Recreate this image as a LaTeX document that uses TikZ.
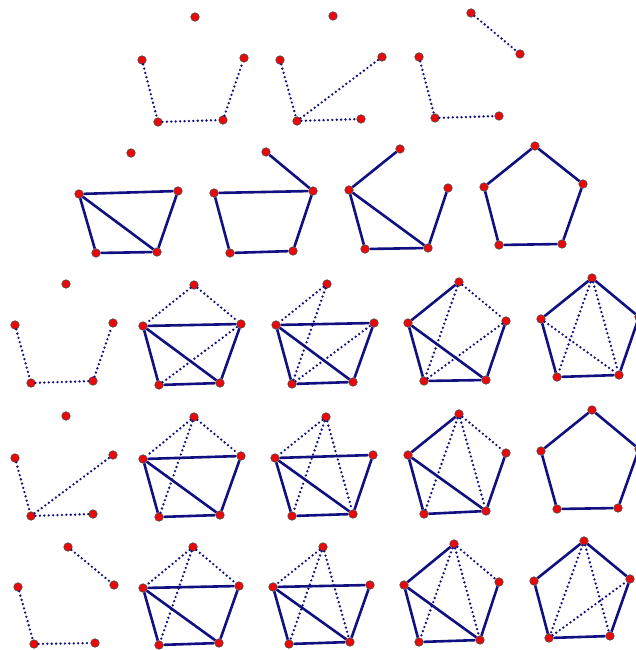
\documentclass[tikz,border=0pt]{standalone}
\usepackage{tikz}
\usetikzlibrary{calc}
\usepackage{xcolor}

\definecolor{edgeblue}{RGB}{16,16,128}
\definecolor{vtxred}{RGB}{236,8,8}

% five vertices of one graph: prefix, top, left, right, bottom-left, bottom-right
\newcommand{\fivevtx}[6]{%
  \node[vtx] (#1t)  at (#2) {};
  \node[vtx] (#1l)  at (#3) {};
  \node[vtx] (#1r)  at (#4) {};
  \node[vtx] (#1bl) at (#5) {};
  \node[vtx] (#1br) at (#6) {};
}

\begin{document}
\begin{tikzpicture}[
  x=1pt, y=-1pt,
  vtx/.style = {circle, fill=vtxred, draw=black!70, line width=0.6pt, inner sep=0pt, minimum size=8.5pt},
  solidedge/.style = {edgeblue, line width=2.6pt},
  dotedge/.style = {edgeblue, line width=2.6pt, line cap=round, dash pattern=on 0pt off 4.4pt}
]
  \useasboundingbox (0,0) rectangle (636,650);

  % ======================================================
  % Row 1
  % ======================================================
  \fivevtx{g11}{195,17}{142,60}{244,58}{158,122}{223,120}
  \fivevtx{g12}{333,16}{280,60}{382,57}{297,121}{361,119}
  \fivevtx{g13}{471,13}{419,57}{520,54}{435,118}{499,116}

  \draw[dotedge] (g11l) -- (g11bl) (g11bl) -- (g11br) (g11br) -- (g11r);
  \draw[dotedge] (g12l) -- (g12bl) (g12bl) -- (g12br) (g12bl) -- (g12r);
  \draw[dotedge] (g13t) -- (g13r) (g13l) -- (g13bl) (g13bl) -- (g13br);

  % ======================================================
  % Row 2
  % ======================================================
  \fivevtx{g21}{131,153}{79,194}{178,191}{96,253}{157,252}
  \fivevtx{g22}{266,152}{214,193}{313,191}{230,253}{293,251}
  \fivevtx{g23}{400,149}{349,190}{448,188}{365,249}{428,248}
  \fivevtx{g24}{535,146}{484,187}{583,184}{499,245}{562,244}

  \draw[solidedge] (g21l) -- (g21r) (g21l) -- (g21bl) (g21l) -- (g21br) (g21bl) -- (g21br) (g21br) -- (g21r);
  \draw[solidedge] (g22t) -- (g22r) (g22l) -- (g22r) (g22l) -- (g22bl) (g22bl) -- (g22br) (g22br) -- (g22r);
  \draw[solidedge] (g23t) -- (g23l) (g23l) -- (g23bl) (g23l) -- (g23br) (g23bl) -- (g23br) (g23br) -- (g23r);
  \draw[solidedge] (g24t) -- (g24l) (g24t) -- (g24r) (g24l) -- (g24bl) (g24bl) -- (g24br) (g24br) -- (g24r);

  % ======================================================
  % Row 3
  % ======================================================
  \fivevtx{g31}{66,284}{15,325}{113,323}{31,383}{93,381}
  \fivevtx{g32}{194,285}{143,326}{241,324}{159,385}{220,383}
  \fivevtx{g33}{327,284}{276,325}{374,323}{292,384}{353,382}
  \fivevtx{g34}{459,282}{408,323}{506,321}{424,381}{486,380}
  \fivevtx{g35}{592,278}{541,319}{639,317}{557,377}{619,375}

  \draw[dotedge] (g31l) -- (g31bl) (g31bl) -- (g31br) (g31br) -- (g31r);

  \draw[solidedge] (g32l) -- (g32r) (g32l) -- (g32bl) (g32l) -- (g32br) (g32bl) -- (g32br) (g32br) -- (g32r);
  \draw[dotedge] (g32t) -- (g32l) (g32t) -- (g32r) (g32bl) -- (g32r);

  \draw[solidedge] (g33l) -- (g33r) (g33l) -- (g33bl) (g33l) -- (g33br) (g33bl) -- (g33br) (g33br) -- (g33r);
  \draw[dotedge] (g33t) -- (g33l) (g33t) -- (g33bl) (g33bl) -- (g33r);

  \draw[solidedge] (g34t) -- (g34l) (g34l) -- (g34bl) (g34l) -- (g34br) (g34bl) -- (g34br) (g34br) -- (g34r);
  \draw[dotedge] (g34t) -- (g34r) (g34t) -- (g34bl) (g34bl) -- (g34r);

  \draw[solidedge] (g35t) -- (g35l) (g35t) -- (g35r) (g35l) -- (g35bl) (g35bl) -- (g35br) (g35br) -- (g35r);
  \draw[dotedge] (g35t) -- (g35bl) (g35t) -- (g35br) (g35l) -- (g35br);

  % ======================================================
  % Row 4
  % ======================================================
  \fivevtx{g41}{66,416}{15,458}{113,455}{31,516}{93,514}
  \fivevtx{g42}{194,417}{143,459}{241,456}{159,517}{220,515}
  \fivevtx{g43}{326,417}{275,458}{373,455}{292,516}{353,514}
  \fivevtx{g44}{459,414}{408,455}{506,453}{424,514}{486,511}
  \fivevtx{g45}{592,410}{541,451}{639,449}{557,509}{618,508}

  \draw[dotedge] (g41l) -- (g41bl) (g41bl) -- (g41r) (g41bl) -- (g41br);

  \draw[solidedge] (g42l) -- (g42r) (g42l) -- (g42bl) (g42l) -- (g42br) (g42bl) -- (g42br) (g42br) -- (g42r);
  \draw[dotedge] (g42t) -- (g42l) (g42t) -- (g42r) (g42t) -- (g42bl);

  \draw[solidedge] (g43l) -- (g43r) (g43l) -- (g43bl) (g43l) -- (g43br) (g43bl) -- (g43br) (g43br) -- (g43r);
  \draw[dotedge] (g43t) -- (g43l) (g43t) -- (g43bl) (g43t) -- (g43br);

  \draw[solidedge] (g44t) -- (g44l) (g44l) -- (g44bl) (g44l) -- (g44br) (g44bl) -- (g44br) (g44br) -- (g44r);
  \draw[dotedge] (g44t) -- (g44r) (g44t) -- (g44bl) (g44t) -- (g44br);

  \draw[solidedge] (g45t) -- (g45l) (g45t) -- (g45r) (g45l) -- (g45bl) (g45bl) -- (g45br) (g45br) -- (g45r);

  % ======================================================
  % Row 5
  % ======================================================
  \fivevtx{g51}{68,547}{18,587}{114,585}{34,644}{95,643}
  \fivevtx{g52}{193,547}{143,588}{239,586}{159,645}{219,643}
  \fivevtx{g53}{323,547}{273,587}{370,585}{289,644}{350,642}
  \fivevtx{g54}{454,544}{404,585}{499,582}{419,642}{480,640}
  \fivevtx{g55}{584,541}{534,581}{630,579}{549,638}{610,636}

  \draw[dotedge] (g51t) -- (g51r) (g51l) -- (g51bl) (g51bl) -- (g51br);

  \draw[solidedge] (g52l) -- (g52r) (g52l) -- (g52bl) (g52l) -- (g52br) (g52bl) -- (g52br) (g52br) -- (g52r);
  \draw[dotedge] (g52t) -- (g52l) (g52t) -- (g52r) (g52t) -- (g52bl);

  \draw[solidedge] (g53l) -- (g53r) (g53l) -- (g53bl) (g53l) -- (g53br) (g53bl) -- (g53br) (g53br) -- (g53r);
  \draw[dotedge] (g53t) -- (g53l) (g53t) -- (g53bl) (g53t) -- (g53br);

  \draw[solidedge] (g54t) -- (g54l) (g54l) -- (g54bl) (g54l) -- (g54br) (g54bl) -- (g54br) (g54br) -- (g54r);
  \draw[dotedge] (g54t) -- (g54r) (g54t) -- (g54bl) (g54t) -- (g54br);

  \draw[solidedge] (g55t) -- (g55l) (g55t) -- (g55r) (g55l) -- (g55bl) (g55bl) -- (g55br) (g55br) -- (g55r);
  \draw[dotedge] (g55t) -- (g55bl) (g55t) -- (g55br) (g55bl) -- (g55r);

\end{tikzpicture}
\end{document}
